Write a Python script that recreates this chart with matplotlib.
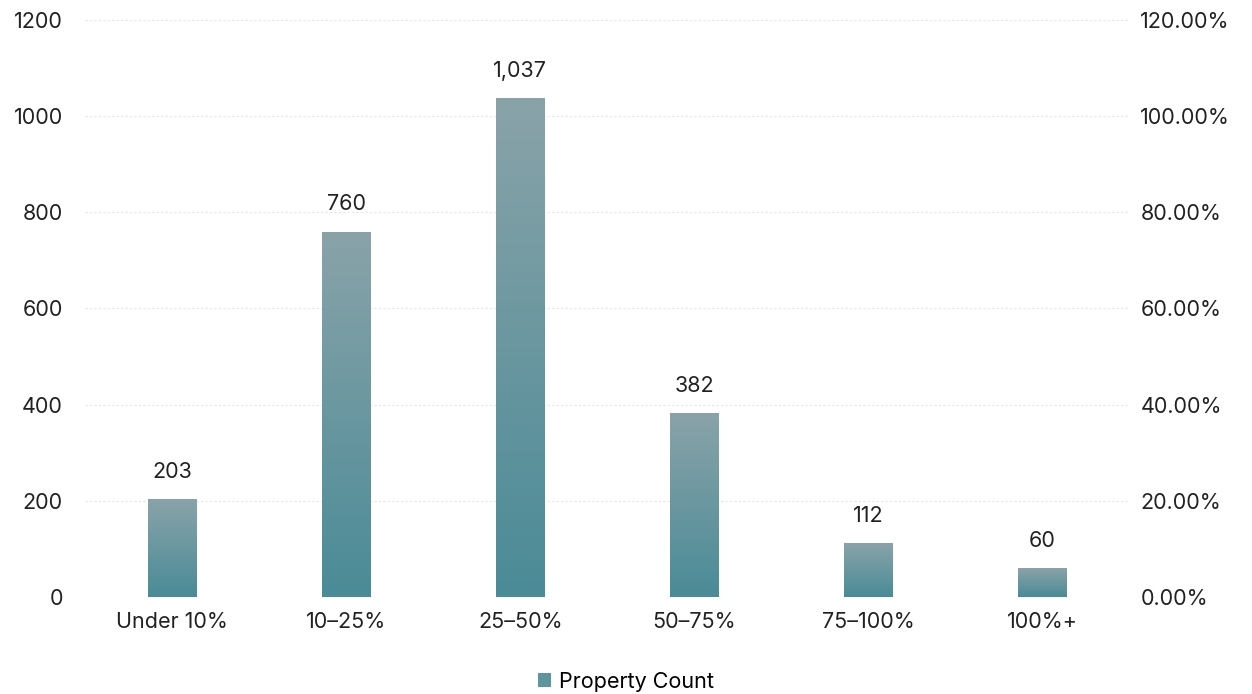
import numpy as np
import matplotlib.pyplot as plt
from matplotlib.colors import LinearSegmentedColormap

plt.rcParams['font.family'] = ['Inter', 'DejaVu Sans']

categories = ["Under 10%", "10\u201325%", "25\u201350%", "50\u201375%", "75\u2013100%", "100%+"]
counts = [203, 760, 1037, 382, 112, 60]
left_ticks = [0, 200, 400, 600, 800, 1000, 1200]
right_ticks = [0, 20, 40, 60, 80, 100, 120]

fs = 15.5

fig = plt.figure(figsize=(12.52, 6.94), dpi=100)
ax = fig.add_axes([0.068, 0.140, 0.834, 0.831])

x = np.arange(len(categories))
bars = ax.bar(x, counts, width=0.28, color='#5e949e', label='Property Count', zorder=2)

# vertical gradient inside each bar
cmap = LinearSegmentedColormap.from_list('g', ['#4a8b97', '#8aa3a9'])
grad = np.linspace(0, 1, 256).reshape(-1, 1)
for b in bars:
    x0, y0 = b.get_x(), b.get_y()
    w, h = b.get_width(), b.get_height()
    im = ax.imshow(grad, cmap=cmap, origin='lower', aspect='auto',
                   extent=[x0, x0 + w, y0, y0 + h], zorder=3)
    im.set_clip_path(b)

for xi, v in zip(x, counts):
    ax.text(xi, v + 36, f"{v:,}", ha='center', va='bottom', fontsize=fs, color='#222222')

ax.set_xlim(-0.5, len(categories) - 0.5)
ax.set_ylim(0, 1200)
ax.set_yticks(left_ticks)
ax.set_xticks(x)
ax.set_xticklabels(categories)
ax.tick_params(axis='both', length=0, labelsize=fs, colors='#222222')
ax.tick_params(axis='x', pad=11)
ax.tick_params(axis='y', pad=16)
ax.grid(axis='y', color='#e6e6e6', linestyle=(0, (2, 2)), linewidth=0.8, zorder=0)
for s in ax.spines.values():
    s.set_visible(False)

ax2 = ax.twinx()
ax2.set_ylim(0, 120)
ax2.set_yticks(right_ticks)
ax2.set_yticklabels([f"{t:.2f}%" for t in right_ticks])
ax2.tick_params(axis='y', length=0, labelsize=fs, colors='#222222', pad=8)
for s in ax2.spines.values():
    s.set_visible(False)

ax.set_xlim(-0.5, len(categories) - 0.5)
fig.legend(handles=[bars], labels=['Property Count'], loc='center', bbox_to_anchor=(0.5, 0.018),
           frameon=False, fontsize=fs, handlelength=0.6, handleheight=0.6, handletextpad=0.4)

fig.savefig("out.png", dpi=100)
